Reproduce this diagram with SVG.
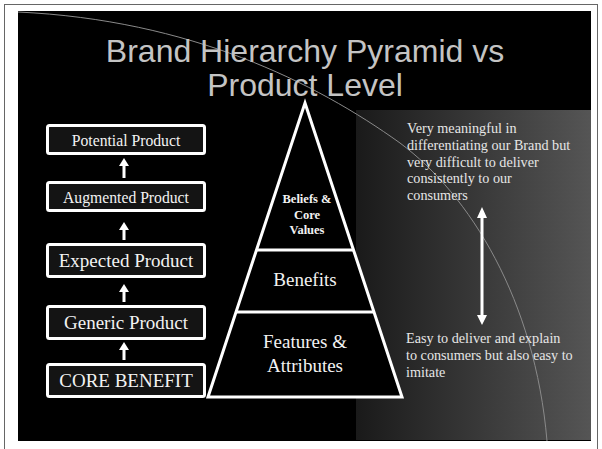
<svg xmlns="http://www.w3.org/2000/svg" width="602" height="449" viewBox="0 0 602 449">
<style>
.box{fill:#141414;stroke:#ffffff;stroke-width:3}
.bt{font-family:"Liberation Serif","Times New Roman",serif;fill:#f2f2f2;text-anchor:middle}
.pt{font-family:"Liberation Serif","Times New Roman",serif;fill:#f2f2f2;text-anchor:middle;font-size:19px}
.rt{font-family:"Liberation Serif","Times New Roman",serif;fill:#e6e6e6;font-size:14.2px}
.title{font-family:"Liberation Sans",Arial,sans-serif;fill:#c4c4c4;font-size:32px;text-anchor:middle}
.arr{fill:#ffffff}
.pyr{fill:#000000;stroke:#ffffff;stroke-width:3;stroke-linejoin:miter}
</style>
<defs>
<linearGradient id="panel" x1="0" y1="0" x2="1" y2="0">
<stop offset="0" stop-color="#1a1a1a"/>
<stop offset="1" stop-color="#555555"/>
</linearGradient>
</defs>
<rect x="0" y="0" width="602" height="449" fill="#ffffff"/>
<rect x="4.5" y="4.5" width="593" height="460" fill="none" stroke="#666666" stroke-width="1"/>
<rect x="18" y="11" width="573" height="430" fill="#000000"/>
<rect x="356" y="110" width="235" height="330" fill="url(#panel)"/>
<path d="M18,12 C190,20 315,82 400,143 C470,195 535,300 547,441" fill="none" stroke="#8a8a8a" stroke-width="1"/>
<g id="title">
<text class="title" x="305" y="62">Brand Hierarchy Pyramid vs</text>
<text class="title" x="305" y="96">Product Level</text>
</g>
<g id="potential-product">
<rect class="box" x="47.5" y="125.5" width="157" height="28" rx="2"/>
<text class="bt" x="126" y="146" font-size="15.7">Potential Product</text>
</g>
<g id="augmented-product">
<rect class="box" x="47.5" y="182.5" width="157" height="28" rx="2"/>
<text class="bt" x="126" y="203" font-size="15.7">Augmented Product</text>
</g>
<g id="expected-product">
<rect class="box" x="47.5" y="244.5" width="157" height="32" rx="2"/>
<text class="bt" x="126" y="267" font-size="19">Expected Product</text>
</g>
<g id="generic-product">
<rect class="box" x="47.5" y="306.5" width="157" height="32" rx="2"/>
<text class="bt" x="126" y="329" font-size="19">Generic Product</text>
</g>
<g id="core-benefit">
<rect class="box" x="47.5" y="364.5" width="157" height="32" rx="2"/>
<text class="bt" x="126" y="387" font-size="19">CORE BENEFIT</text>
</g>
<g id="pyramid">
<polygon class="pyr" points="305,103 402,397 208,397"/>
<line x1="256" y1="250" x2="354" y2="250" stroke="#ffffff" stroke-width="3"/>
<line x1="235.5" y1="312" x2="374.5" y2="312" stroke="#ffffff" stroke-width="3"/>
</g>
<g id="beliefs-core-values">
<text class="bt" x="307" y="203" font-size="12.5" font-weight="bold">Beliefs &amp;</text>
<text class="bt" x="307" y="219" font-size="12.5" font-weight="bold">Core</text>
<text class="bt" x="307" y="234" font-size="12.5" font-weight="bold">Values</text>
</g>
<g id="benefits">
<text class="pt" x="305" y="286">Benefits</text>
</g>
<g id="features-attributes">
<text class="pt" x="305" y="348">Features &amp;</text>
<text class="pt" x="305" y="372">Attributes</text>
</g>
<g id="top-note">
<text class="rt" x="407" y="133">Very meaningful in</text>
<text class="rt" x="407" y="150">differentiating our Brand but</text>
<text class="rt" x="407" y="166.5">very difficult to deliver</text>
<text class="rt" x="407" y="183">consistently to our</text>
<text class="rt" x="407" y="200">consumers</text>
</g>
<g id="bottom-note">
<text class="rt" x="406" y="343">Easy to deliver and explain</text>
<text class="rt" x="406" y="360">to consumers but also easy to</text>
<text class="rt" x="406" y="376.5">imitate</text>
</g>
<g id="connectors">
<path class="arr" d="M124,158 L129,166 L125.5,166 L125.5,178 L122.5,178 L122.5,166 L119,166 Z"/>
<path class="arr" d="M124,222 L129,230 L125.5,230 L125.5,240 L122.5,240 L122.5,230 L119,230 Z"/>
<path class="arr" d="M124,284 L129,292 L125.5,292 L125.5,302 L122.5,302 L122.5,292 L119,292 Z"/>
<path class="arr" d="M124,342 L129,350 L125.5,350 L125.5,360 L122.5,360 L122.5,350 L119,350 Z"/>
<path class="arr" d="M482,207 L487,218 L483.5,218 L483.5,315 L487,315 L482,325 L477,315 L480.5,315 L480.5,218 L477,218 Z"/>
</g>
</svg>
